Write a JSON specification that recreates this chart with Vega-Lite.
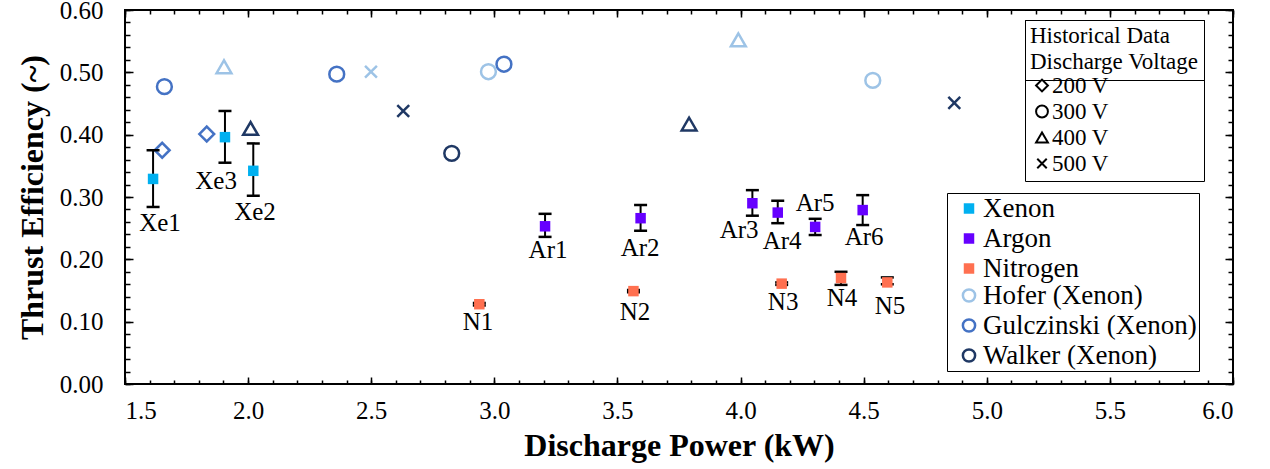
{
  "$schema": "https://vega.github.io/schema/vega-lite/v6.json",
  "width": 1108,
  "height": 374,
  "autosize": "none",
  "padding": {"left": 125, "top": 10, "right": 37, "bottom": 85},
  "background": "white",
  "config": {
    "font": "Liberation Serif",
    "view": {"stroke": "black", "strokeWidth": 2},
    "style": {"guide-label": {"font": "Liberation Serif", "fill": "black"}, "guide-title": {"font": "Liberation Serif", "fill": "black"}},
    "axis": {"grid": false, "labelColor": "black", "titleColor": "black", "tickColor": "black", "labelFont": "Liberation Serif", "titleFont": "Liberation Serif"},
    "legend": {"labelFont": "Liberation Serif", "titleFont": "Liberation Serif", "labelColor": "black", "titleColor": "black"}
  },
  "datasets": {
    "hist": [
      {"series": "Gulczinski (Xenon)", "voltage": "200 V", "power": 1.651, "eff": 0.375},
      {"series": "Gulczinski (Xenon)", "voltage": "200 V", "power": 1.832, "eff": 0.401},
      {"series": "Gulczinski (Xenon)", "voltage": "300 V", "power": 1.660, "eff": 0.477},
      {"series": "Gulczinski (Xenon)", "voltage": "300 V", "power": 2.360, "eff": 0.497},
      {"series": "Gulczinski (Xenon)", "voltage": "300 V", "power": 3.039, "eff": 0.513},
      {"series": "Hofer (Xenon)", "voltage": "400 V", "power": 1.902, "eff": 0.509},
      {"series": "Hofer (Xenon)", "voltage": "500 V", "power": 2.499, "eff": 0.501},
      {"series": "Hofer (Xenon)", "voltage": "300 V", "power": 2.976, "eff": 0.501},
      {"series": "Hofer (Xenon)", "voltage": "400 V", "power": 3.991, "eff": 0.552},
      {"series": "Hofer (Xenon)", "voltage": "300 V", "power": 4.537, "eff": 0.487},
      {"series": "Walker (Xenon)", "voltage": "400 V", "power": 2.010, "eff": 0.410},
      {"series": "Walker (Xenon)", "voltage": "500 V", "power": 2.630, "eff": 0.438},
      {"series": "Walker (Xenon)", "voltage": "300 V", "power": 2.827, "eff": 0.370},
      {"series": "Walker (Xenon)", "voltage": "400 V", "power": 3.791, "eff": 0.417},
      {"series": "Walker (Xenon)", "voltage": "500 V", "power": 4.868, "eff": 0.451}
    ],
    "new": [
      {"name": "Xe1", "series": "Xenon", "power": 1.614, "eff": 0.329, "lo": 0.284, "hi": 0.375},
      {"name": "Xe2", "series": "Xenon", "power": 2.021, "eff": 0.342, "lo": 0.302, "hi": 0.386},
      {"name": "Xe3", "series": "Xenon", "power": 1.906, "eff": 0.396, "lo": 0.355, "hi": 0.438},
      {"name": "Ar1", "series": "Argon", "power": 3.206, "eff": 0.253, "lo": 0.236, "hi": 0.273},
      {"name": "Ar2", "series": "Argon", "power": 3.594, "eff": 0.266, "lo": 0.246, "hi": 0.287},
      {"name": "Ar3", "series": "Argon", "power": 4.048, "eff": 0.290, "lo": 0.270, "hi": 0.311},
      {"name": "Ar4", "series": "Argon", "power": 4.151, "eff": 0.275, "lo": 0.258, "hi": 0.294},
      {"name": "Ar5", "series": "Argon", "power": 4.303, "eff": 0.252, "lo": 0.239, "hi": 0.265},
      {"name": "Ar6", "series": "Argon", "power": 4.496, "eff": 0.279, "lo": 0.255, "hi": 0.303},
      {"name": "N1", "series": "Nitrogen", "power": 2.939, "eff": 0.128, "lo": 0.126, "hi": 0.130},
      {"name": "N2", "series": "Nitrogen", "power": 3.565, "eff": 0.149, "lo": 0.147, "hi": 0.151},
      {"name": "N3", "series": "Nitrogen", "power": 4.167, "eff": 0.161, "lo": 0.159, "hi": 0.163},
      {"name": "N4", "series": "Nitrogen", "power": 4.408, "eff": 0.170, "lo": 0.159, "hi": 0.180},
      {"name": "N5", "series": "Nitrogen", "power": 4.596, "eff": 0.163, "lo": 0.160, "hi": 0.171}
    ],
    "labels": [
      {"name": "Xe1", "power": 1.642, "eff": 0.258},
      {"name": "Xe3", "power": 1.870, "eff": 0.326},
      {"name": "Xe2", "power": 2.028, "eff": 0.276},
      {"name": "Ar1", "power": 3.218, "eff": 0.215},
      {"name": "Ar2", "power": 3.592, "eff": 0.218},
      {"name": "Ar3", "power": 3.994, "eff": 0.247},
      {"name": "Ar4", "power": 4.169, "eff": 0.229},
      {"name": "Ar5", "power": 4.303, "eff": 0.290},
      {"name": "Ar6", "power": 4.502, "eff": 0.236},
      {"name": "N1", "power": 2.934, "eff": 0.0995},
      {"name": "N2", "power": 3.571, "eff": 0.1155},
      {"name": "N3", "power": 4.173, "eff": 0.1316},
      {"name": "N4", "power": 4.412, "eff": 0.138},
      {"name": "N5", "power": 4.607, "eff": 0.125}
    ]
  },
  "resolve": {"axis": {"x": "independent", "y": "independent"}},
  "layer": [
    {
      "data": {"name": "hist"},
      "mark": {"type": "point", "filled": false, "strokeWidth": 2.5, "size": 220, "opacity": 1},
      "encoding": {
        "x": {"field": "power", "type": "quantitative", "scale": {"domain": [1.5, 6], "nice": false, "zero": false},
          "axis": {"orient": "bottom", "values": [1.5, 2, 2.5, 3, 3.5, 4, 4.5, 5, 5.5, 6], "format": ".1f", "ticks": false, "domain": false, "labelFont": "Liberation Serif", "labelColor": "black", "labelFontSize": 25, "labelPadding": 14, "title": "Discharge Power (kW)", "titleFont": "Liberation Serif", "titleFontSize": 32, "titleFontWeight": "bold", "titlePadding": 7}},
        "y": {"field": "eff", "type": "quantitative", "scale": {"domain": [0, 0.6], "nice": false},
          "axis": {"orient": "left", "values": [0, 0.1, 0.2, 0.3, 0.4, 0.5, 0.6], "format": ".2f", "ticks": false, "domain": false, "labelFont": "Liberation Serif", "labelColor": "black", "labelFontSize": 25, "labelPadding": 22, "title": "Thrust Efficiency (~)", "titleFont": "Liberation Serif", "titleFontSize": 32, "titleFontWeight": "bold", "titlePadding": 10}},
        "stroke": {"field": "series", "type": "nominal",
          "scale": {"domain": ["Hofer (Xenon)", "Gulczinski (Xenon)", "Walker (Xenon)"], "range": ["#9DC3E6", "#4472C4", "#1F3864"]},
          "legend": {"orient": "none", "legendX": 822, "legendY": 183, "title": ["\u00a0", "\u00a0", "\u00a0"], "titleFontSize": 27, "titleLineHeight": 29, "titlePadding": 2, "strokeColor": "black", "padding": 2, "labelFontSize": 27, "labelColor": "black", "labelFont": "Liberation Serif", "labelLimit": 400, "symbolType": "circle", "symbolSize": 150, "symbolStrokeWidth": 2.5, "symbolFillColor": "transparent", "symbolOffset": 6.5, "rowPadding": 2, "labelOffset": 0.5}},
        "shape": {"field": "voltage", "type": "nominal",
          "scale": {"domain": ["200 V", "300 V", "400 V", "500 V"], "range": ["diamond", "circle", "triangle-up", "M-0.8,-0.8L0.8,0.8M-0.8,0.8L0.8,-0.8"]},
          "legend": {"orient": "none", "legendX": 900, "legendY": 10, "title": ["Historical Data", "Discharge Voltage"], "titleFontSize": 23, "titleFontWeight": "normal", "titleFont": "Liberation Serif", "titleColor": "black", "titleLineHeight": 26, "titleAnchor": "start", "titleAlign": "left", "titlePadding": 0, "strokeColor": "black", "fillColor": "white", "padding": 5, "labelFontSize": 23, "labelColor": "black", "labelFont": "Liberation Serif", "symbolSize": 140, "symbolStrokeColor": "black", "symbolFillColor": "transparent", "symbolStrokeWidth": 2, "symbolOffset": 0.5, "rowPadding": 2, "labelOffset": -1.5}}
      }
    },
    {
      "data": {"name": "new"},
      "mark": {"type": "rule", "color": "black", "strokeWidth": 2},
      "encoding": {
        "x": {"field": "power", "type": "quantitative", "axis": null},
        "y": {"field": "lo", "type": "quantitative", "axis": null},
        "y2": {"field": "hi"}
      }
    },
    {
      "data": {"name": "new"},
      "mark": {"type": "tick", "orient": "horizontal", "color": "black", "size": 13, "thickness": 2.5, "opacity": 1},
      "encoding": {
        "x": {"field": "power", "type": "quantitative", "axis": null},
        "y": {"field": "lo", "type": "quantitative", "axis": null}
      }
    },
    {
      "data": {"name": "new"},
      "mark": {"type": "tick", "orient": "horizontal", "color": "black", "size": 13, "thickness": 2.5, "opacity": 1},
      "encoding": {
        "x": {"field": "power", "type": "quantitative", "axis": null},
        "y": {"field": "hi", "type": "quantitative", "axis": null}
      }
    },
    {
      "data": {"name": "new"},
      "mark": {"type": "point", "filled": true, "shape": "square", "size": 110, "opacity": 1, "strokeWidth": 0},
      "encoding": {
        "x": {"field": "power", "type": "quantitative", "axis": null},
        "y": {"field": "eff", "type": "quantitative", "axis": null},
        "fill": {"field": "series", "type": "nominal",
          "scale": {"domain": ["Xenon", "Argon", "Nitrogen"], "range": ["#00B0F0", "#6600FF", "#FF7050"]},
          "legend": {"orient": "none", "legendX": 822, "legendY": 183, "title": null, "padding": 2, "labelFontSize": 27, "labelColor": "black", "labelFont": "Liberation Serif", "labelLimit": 400, "symbolType": "square", "symbolSize": 110, "symbolStrokeWidth": 0, "symbolOffset": 6.5, "rowPadding": 2, "labelOffset": 0.5}}
      }
    },
    {
      "data": {"name": "labels"},
      "mark": {"type": "text", "fontSize": 25, "font": "Liberation Serif", "color": "black", "align": "center", "baseline": "middle"},
      "encoding": {
        "x": {"field": "power", "type": "quantitative", "axis": null},
        "y": {"field": "eff", "type": "quantitative", "axis": null},
        "text": {"field": "name"}
      }
    },
    {
      "data": {"name": "new"},
      "mark": {"type": "point", "opacity": 0},
      "encoding": {
        "x": {"field": "power", "type": "quantitative", "axis": {"orient": "bottom", "values": [1.5,1.6,1.7,1.8,1.9,2.0,2.1,2.2,2.3,2.4,2.5,2.6,2.7,2.8,2.9,3.0,3.1,3.2,3.3,3.4,3.5,3.6,3.7,3.8,3.9,4.0,4.1,4.2,4.3,4.4,4.5,4.6,4.7,4.8,4.9,5.0,5.1,5.2,5.3,5.4,5.5,5.6,5.7,5.8,5.9,6.0], "labels": false, "domain": false, "title": null, "tickSize": -4, "tickWidth": 1.5}},
        "y": {"field": "eff", "type": "quantitative", "axis": {"orient": "left", "values": [0,0.02,0.04,0.06,0.08,0.1,0.12,0.14,0.16,0.18,0.2,0.22,0.24,0.26,0.28,0.3,0.32,0.34,0.36,0.38,0.4,0.42,0.44,0.46,0.48,0.5,0.52,0.54,0.56,0.58,0.6], "labels": false, "domain": false, "title": null, "tickSize": -5, "tickWidth": 1.5}}
      }
    },
    {
      "data": {"name": "new"},
      "mark": {"type": "point", "opacity": 0},
      "encoding": {
        "x": {"field": "power", "type": "quantitative", "axis": {"orient": "bottom", "values": [1.5, 2, 2.5, 3, 3.5, 4, 4.5, 5, 5.5, 6], "labels": false, "domain": false, "title": null, "tickSize": -7, "tickWidth": 1.5}},
        "y": {"field": "eff", "type": "quantitative", "axis": {"orient": "left", "values": [0, 0.1, 0.2, 0.3, 0.4, 0.5, 0.6], "labels": false, "domain": false, "title": null, "tickSize": -8, "tickWidth": 1.5}}
      }
    },
    {
      "data": {"name": "new"},
      "mark": {"type": "point", "opacity": 0},
      "encoding": {
        "x": {"field": "power", "type": "quantitative", "axis": {"orient": "top", "values": [1.5,1.6,1.7,1.8,1.9,2.0,2.1,2.2,2.3,2.4,2.5,2.6,2.7,2.8,2.9,3.0,3.1,3.2,3.3,3.4,3.5,3.6,3.7,3.8,3.9,4.0,4.1,4.2,4.3,4.4,4.5,4.6,4.7,4.8,4.9,5.0,5.1,5.2,5.3,5.4,5.5,5.6,5.7,5.8,5.9,6.0], "labels": false, "domain": false, "title": null, "tickSize": -4, "tickWidth": 1.5}},
        "y": {"field": "eff", "type": "quantitative", "axis": {"orient": "right", "values": [0,0.02,0.04,0.06,0.08,0.1,0.12,0.14,0.16,0.18,0.2,0.22,0.24,0.26,0.28,0.3,0.32,0.34,0.36,0.38,0.4,0.42,0.44,0.46,0.48,0.5,0.52,0.54,0.56,0.58,0.6], "labels": false, "domain": false, "title": null, "tickSize": -5, "tickWidth": 1.5}}
      }
    },
    {
      "data": {"name": "new"},
      "mark": {"type": "point", "opacity": 0},
      "encoding": {
        "x": {"field": "power", "type": "quantitative", "axis": {"orient": "top", "values": [1.5, 2, 2.5, 3, 3.5, 4, 4.5, 5, 5.5, 6], "labels": false, "domain": false, "title": null, "tickSize": -7, "tickWidth": 1.5}},
        "y": {"field": "eff", "type": "quantitative", "axis": {"orient": "right", "values": [0, 0.1, 0.2, 0.3, 0.4, 0.5, 0.6], "labels": false, "domain": false, "title": null, "tickSize": -8, "tickWidth": 1.5}},
        "strokeDash": {"datum": "Historical",
          "legend": {"orient": "none", "legendX": 900, "legendY": 10, "title": ["Historical Data", "Discharge Voltage"], "titleFontSize": 23, "titleFontWeight": "normal", "titleFont": "Liberation Serif", "titleLineHeight": 26, "titleAnchor": "start", "titleAlign": "left", "titleOpacity": 0, "titlePadding": 0, "strokeColor": "black", "padding": 5, "labelFontSize": 1, "labelExpr": "''", "symbolSize": 0, "symbolOpacity": 0, "symbolOffset": 0, "labelOffset": 0}}
      }
    }
  ]
}
